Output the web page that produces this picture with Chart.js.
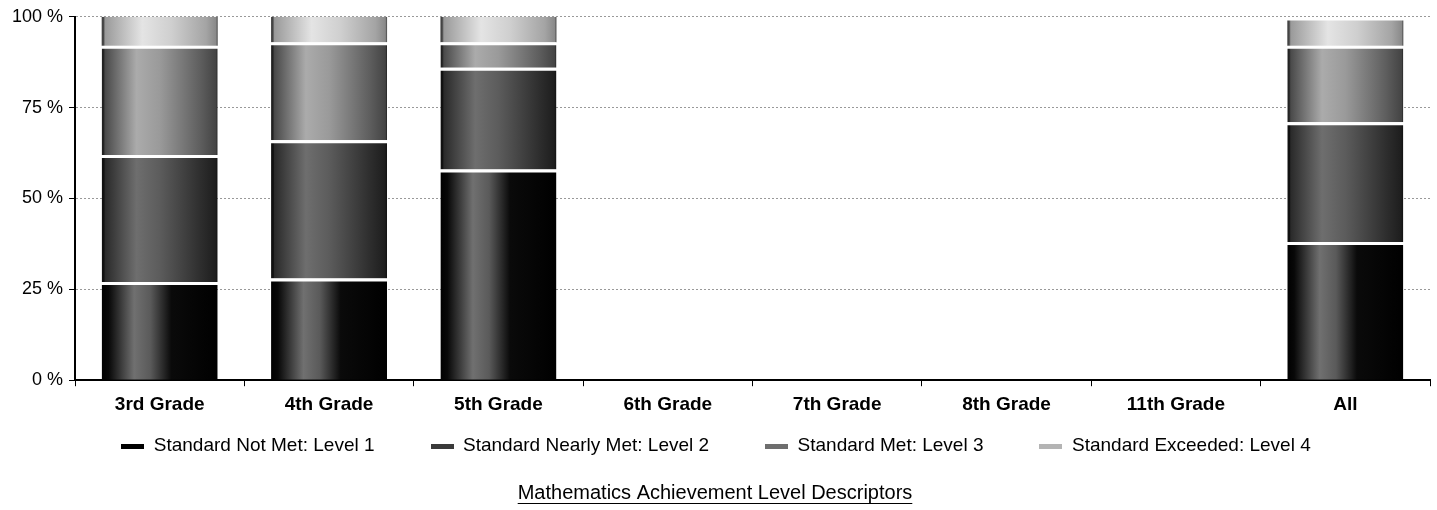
<!DOCTYPE html>
<html>
<head>
<meta charset="utf-8">
<script src="https://cdn.jsdelivr.net/npm/chart.js@4.4.1/dist/chart.umd.min.js"></script>
<style>
  html, body { margin: 0; padding: 0; background: #fff; }
  #wrap { width: 1437px; height: 510px; position: relative; }
</style>
</head>
<body>
<div id="wrap"><canvas id="c" width="1437" height="510"></canvas></div>
<script>
// ---- data ----
const categories = ['3rd Grade', '4th Grade', '5th Grade', '6th Grade', '7th Grade', '8th Grade', '11th Grade', 'All'];
const seriesNames = ['Standard Not Met: Level 1', 'Standard Nearly Met: Level 2', 'Standard Met: Level 3', 'Standard Exceeded: Level 4'];
const level1 = [27, 28, 58, null, null, null, null, 38];
const level2 = [35, 38, 28, null, null, null, null, 33];
const level3 = [30, 27, 7, null, null, null, null, 21];
const level4 = [8, 7, 7, null, null, null, null, 7];
const yTickValues = [0, 25, 50, 75, 100];
const chartTitle = 'Mathematics Achievement Level Descriptors';

// ---- styling ----
const CAT_PCT = 0.685;
const FONT = "'Liberation Sans', Arial, sans-serif";
const legendSolid = ['#000', '#3a3a3a', '#6e6e6e', '#b4b4b4'];

function makeFill(stops, solid) {
  return (ctx) => {
    if (ctx.type !== 'data') return solid;
    const chart = ctx.chart;
    const xs = chart.scales && chart.scales.x;
    if (!chart.chartArea || !xs) return solid;
    const cx = xs.getPixelForValue(ctx.dataIndex);
    if (!isFinite(cx)) return solid;
    const w = (chart.chartArea.right - chart.chartArea.left) / categories.length * CAT_PCT;
    const g = chart.ctx.createLinearGradient(cx - w / 2, 0, cx + w / 2, 0);
    stops.forEach(([o, c]) => g.addColorStop(o, c));
    return g;
  };
}

const fills = [
  makeFill([[0, '#000'], [0.06, '#080808'], [0.28, '#707070'], [0.42, '#5a5a5a'], [0.6, '#0a0a0a'], [1, '#000']], legendSolid[0]),
  makeFill([[0, '#111'], [0.02, '#111'], [0.03, '#2a2a2a'], [0.3, '#6e6e6e'], [0.5, '#5c5c5c'], [0.85, '#2e2e2e'], [0.98, '#1e1e1e'], [1, '#111']], legendSolid[1]),
  makeFill([[0, '#222'], [0.015, '#222'], [0.03, '#4a4a4a'], [0.3, '#ababab'], [0.5, '#9a9a9a'], [0.85, '#5e5e5e'], [0.985, '#444'], [1, '#222']], legendSolid[2]),
  makeFill([[0, '#444'], [0.015, '#444'], [0.03, '#9a9a9a'], [0.35, '#e4e4e4'], [0.6, '#cfcfcf'], [0.9, '#a4a4a4'], [0.985, '#8a8a8a'], [1, '#444']], legendSolid[3])
];
const seriesData = [level1, level2, level3, level4];

const datasets = seriesNames.map((name, i) => ({
  label: name,
  data: seriesData[i],
  backgroundColor: fills[i],
  borderColor: '#fff',
  borderWidth: i < 3 ? { top: 3, left: 0, right: 0, bottom: 0 } : 0,
  borderSkipped: false,
  barPercentage: 1,
  categoryPercentage: CAT_PCT
}));

// Legend drawn in one row with wide spacing (Excel-like), from the datasets
const rowLegendPlugin = {
  id: 'rowLegend',
  afterDraw(chart) {
    const ctx = chart.ctx;
    const fontSize = 19;
    const boxW = 23, boxH = 5, gapBoxText = 9.5, gapItems = 56;
    const cy = 446;
    ctx.save();
    ctx.font = `${fontSize}px ${FONT}`;
    const items = chart.data.datasets.map((ds, i) => ({
      text: ds.label,
      color: legendSolid[i],
      w: boxW + gapBoxText + ctx.measureText(ds.label).width
    }));
    const total = items.reduce((s, it) => s + it.w, 0) + gapItems * (items.length - 1);
    let x = 716 - total / 2;
    ctx.textBaseline = 'middle';
    ctx.textAlign = 'left';
    items.forEach(it => {
      ctx.fillStyle = it.color;
      ctx.fillRect(Math.round(x), Math.round(cy - boxH / 2), boxW, boxH);
      ctx.fillStyle = '#000';
      ctx.fillText(it.text, x + boxW + gapBoxText, cy);
      x += it.w + gapItems;
    });
    ctx.restore();
  }
};

const underlinePlugin = {
  id: 'underlineTitle',
  afterDraw(chart) {
    const tb = chart.titleBlock;
    if (!tb) return;
    const ctx = chart.ctx;
    const f = tb.options.font;
    ctx.save();
    ctx.font = `${f.weight || 'normal'} ${f.size}px ${f.family}`;
    const w = ctx.measureText(chartTitle).width;
    const pad = tb.options.padding;
    const cy = tb.top + (pad.top || 0) + f.size * 1.2 / 2;
    const cx = (tb.left + tb.right) / 2;
    ctx.strokeStyle = '#000';
    ctx.lineWidth = 1;
    ctx.beginPath();
    const uy = Math.round(cy + f.size * 0.5) + 0.5;
    ctx.moveTo(cx - w / 2, uy);
    ctx.lineTo(cx + w / 2, uy);
    ctx.stroke();
    ctx.restore();
  }
};

new Chart(document.getElementById('c'), {
  type: 'bar',
  data: { labels: categories, datasets },
  plugins: [rowLegendPlugin, underlinePlugin],
  options: {
    responsive: false,
    animation: false,
    events: [],
    layout: { padding: { top: 2, right: 7, left: 0, bottom: 0 } },
    plugins: {
      tooltip: { enabled: false },
      legend: { display: false },
      title: {
        display: true,
        text: chartTitle,
        position: 'bottom',
        color: '#000',
        font: { family: FONT, size: 20, weight: 'normal' },
        padding: { top: 58, bottom: 5 }
      }
    },
    scales: {
      x: {
        stacked: true,
        offset: true,
        border: { color: '#000', width: 2 },
        grid: { drawOnChartArea: false, drawTicks: true, tickLength: 6, tickColor: '#000', offset: true },
        ticks: { color: '#000', font: { family: FONT, size: 19, weight: 'bold' }, padding: 7, maxRotation: 0 }
      },
      y: {
        stacked: true,
        min: 0,
        max: 100,
        afterBuildTicks(scale) { scale.ticks = yTickValues.map(v => ({ value: v })); },
        afterFit(scale) { scale.width = 75; },
        border: { color: '#000', width: 2, dash: [2, 2] },
        grid: {
          color: (c) => c.tick && c.tick.value === 0 ? 'rgba(0,0,0,0)' : '#999',
          lineWidth: 1,
          tickLength: 6,
          tickColor: '#000',
          tickBorderDash: []
        },
        ticks: {
          color: '#000',
          font: { family: FONT, size: 18 },
          padding: 6,
          callback: (v) => v + ' %'
        }
      }
    }
  }
});
</script>
</body>
</html>
